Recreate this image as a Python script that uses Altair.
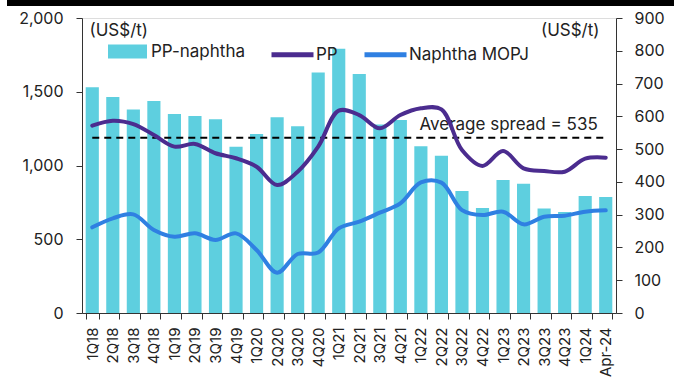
import altair as alt
import pandas as pd

# Quarterly periods
periods = ["1Q18", "2Q18", "3Q18", "4Q18", "1Q19", "2Q19", "3Q19", "4Q19",
           "1Q20", "2Q20", "3Q20", "4Q20", "1Q21", "2Q21", "3Q21", "4Q21",
           "1Q22", "2Q22", "3Q22", "4Q22", "1Q23", "2Q23", "3Q23", "4Q23",
           "1Q24", "Apr-24"]

# PP-naphtha spread (right axis, US$/t)
spread = [689, 659, 621, 647, 607, 601, 591, 507, 546, 597, 570, 734, 806,
          729, 575, 589, 509, 480, 372, 320, 406, 394, 319, 308, 357, 354]

# PP and naphtha MOPJ prices (left axis, US$/t)
pp = [1270, 1304, 1281, 1207, 1128, 1146, 1083, 1049, 992, 868, 958, 1128,
      1372, 1342, 1252, 1342, 1388, 1380, 1105, 997, 1098, 981, 963, 958,
      1046, 1053]
naphtha = [581, 642, 669, 563, 517, 540, 495, 540, 427, 273, 400, 410, 574,
           619, 680, 743, 885, 884, 698, 664, 687, 601, 653, 660, 687, 696]

avg_spread = 535

FONT = "Inter"
TXT = 17
BAR_COLOR = "#5ECFDF"
PP_COLOR = "#4B2C8F"
NAP_COLOR = "#2F80E2"

bars_df = pd.DataFrame({"period": periods, "spread": spread,
                        "series": "PP-naphtha"})
lines_df = pd.concat([
    pd.DataFrame({"period": periods, "price": pp, "series": "PP"}),
    pd.DataFrame({"period": periods, "price": naphtha,
                  "series": "Naphtha MOPJ"}),
])
avg_df = pd.DataFrame({"period": [periods[0], periods[-1]],
                       "spread": [avg_spread, avg_spread]})
avg_label = pd.DataFrame({"period": [periods[-1]], "spread": [avg_spread],
                          "label": [f"Average spread = {avg_spread}"]})

x_enc = alt.X(
    "period:N", sort=periods, title=None,
    scale=alt.Scale(paddingInner=0.36, paddingOuter=0.18),
    axis=alt.Axis(labelAngle=270, tickBand="extent", labelFontSize=15,
                  labelPadding=8, tickSize=6, domainColor="#333",
                  tickColor="#333", labelColor="#222", labelFont=FONT),
)

right_scale = alt.Scale(domain=[0, 900], nice=False, zero=True)
left_scale = alt.Scale(domain=[0, 2000], nice=False, zero=True)

right_axis = alt.Axis(orient="right", values=list(range(0, 901, 100)),
                      labelOverlap=False, grid=False, tickSize=6,
                      labelPadding=12, labelFontSize=16, labelColor="#222",
                      labelFont=FONT, domainColor="#333",
                      tickColor="#333", title="(US$/t)",
                      titleAngle=0, titleX=-17, titleY=12,
                      titleAlign="right", titleBaseline="middle",
                      titleFontSize=TXT, titleFontWeight="normal",
                      titleFont=FONT, titleColor="#222")

bars = alt.Chart(bars_df).mark_bar(color=BAR_COLOR).encode(
    x=x_enc,
    y=alt.Y("spread:Q", scale=right_scale, axis=right_axis),
    fill=alt.Fill("series:N",
                  scale=alt.Scale(domain=["PP-naphtha"], range=[BAR_COLOR]),
                  legend=alt.Legend(
                      title=None, orient="none", legendX=26, legendY=14,
                      symbolType="M-1,-0.36L1,-0.36L1,0.36L-1,0.36Z",
                      symbolSize=1521, symbolStrokeWidth=0,
                      labelFontSize=TXT, labelFont=FONT, labelColor="#222",
                      labelOffset=4)),
)

avg_rule = alt.Chart(avg_df).mark_line(
    color="black", strokeDash=[7, 5], strokeWidth=2
).encode(
    x=alt.X("period:N", sort=periods),
    y=alt.Y("spread:Q", scale=right_scale, axis=right_axis),
)

avg_text = alt.Chart(avg_label).mark_text(
    align="right", baseline="alphabetic", dx=-8, dy=-8,
    fontSize=TXT, font=FONT, color="#222"
).encode(
    x=alt.X("period:N", sort=periods),
    y=alt.Y("spread:Q", scale=right_scale, axis=right_axis),
    text="label:N",
)

spread_layer = alt.layer(bars, avg_rule, avg_text)

lines = alt.Chart(lines_df).mark_line(
    strokeWidth=4, interpolate="catmull-rom", strokeCap="round"
).encode(
    x=alt.X("period:N", sort=periods),
    y=alt.Y("price:Q", scale=left_scale,
            axis=alt.Axis(orient="left", values=list(range(0, 2001, 500)),
                          format=",.0f", grid=False, tickSize=6,
                          labelPadding=13, labelFontSize=16,
                          labelColor="#222", labelFont=FONT,
                          domainColor="#333", tickColor="#333",
                          title="(US$/t)", titleAngle=0, titleX=7,
                          titleY=12, titleAlign="left",
                          titleBaseline="middle", titleFontSize=TXT,
                          titleFontWeight="normal", titleFont=FONT,
                          titleColor="#222")),
    stroke=alt.Stroke("series:N",
                      scale=alt.Scale(domain=["PP", "Naphtha MOPJ"],
                                      range=[PP_COLOR, NAP_COLOR]),
                      legend=alt.Legend(
                          title=None, orient="none", direction="horizontal",
                          legendX=187, legendY=13, symbolType="stroke",
                          symbolSize=1764, symbolStrokeWidth=5,
                          labelFontSize=TXT, labelFont=FONT,
                          labelColor="#222", labelOffset=0,
                          columnPadding=16)),
    detail="series:N",
)

# Heavy black rule across the top of the graphic
top_rule = alt.Chart(pd.DataFrame({"k": [0]})).mark_rule(
    color="black", strokeWidth=6
).encode(x=alt.value(-75), x2=alt.value(592), y=alt.value(-15))

chart = alt.layer(spread_layer, lines, top_rule).resolve_scale(
    y="independent", fill="independent", stroke="independent"
).properties(
    width=534, height=295, autosize="none",
    padding={"left": 82, "top": 18, "right": 65, "bottom": 70},
).configure_view(strokeWidth=0).configure(font=FONT)

chart.save("out.html", embed_options={"renderer": "svg", "actions": False})
